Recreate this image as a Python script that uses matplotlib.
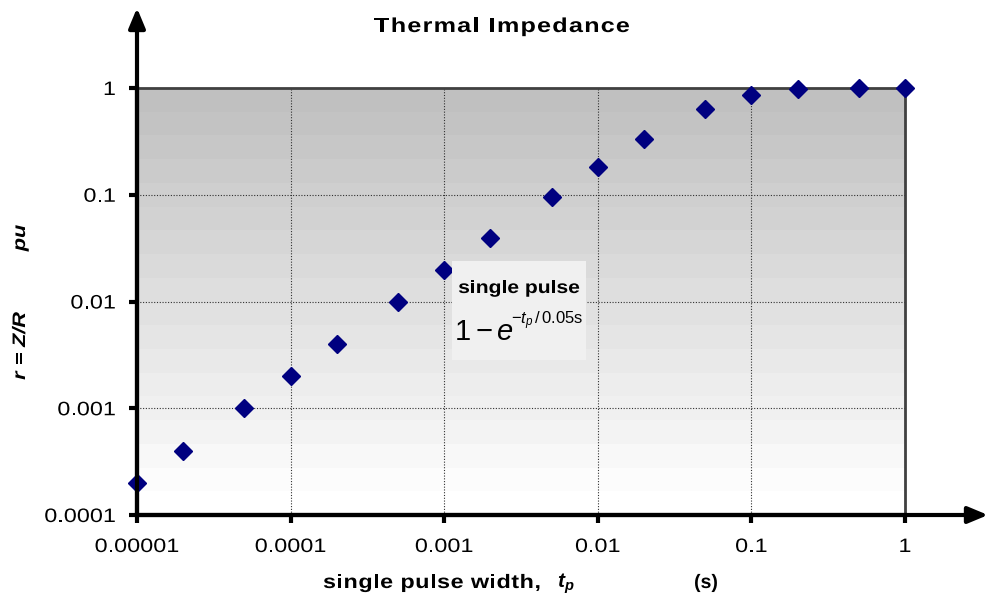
import numpy as np
import matplotlib
matplotlib.use("Agg")
import matplotlib.pyplot as plt
from matplotlib.font_manager import FontProperties
from matplotlib.transforms import IdentityTransform, Affine2D
from matplotlib.patches import FancyArrowPatch, Rectangle, PathPatch
from matplotlib.textpath import TextPath

plt.rcParams["font.family"] = ["Liberation Sans", "DejaVu Sans"]
plt.rcParams["mathtext.fontset"] = "custom"
plt.rcParams["mathtext.it"] = "Liberation Sans:italic"
plt.rcParams["mathtext.rm"] = "Liberation Sans"
plt.rcParams["mathtext.bf"] = "Liberation Sans:bold:italic"

# pulse width (s) and per-unit thermal impedance
pulse_width = [1e-5, 2e-5, 5e-5, 1e-4, 2e-4, 5e-4, 1e-3, 2e-3, 5e-3,
               1e-2, 2e-2, 5e-2, 0.1, 0.2, 0.5, 1.0]
impedance = [0.0002, 0.0004, 0.001, 0.002, 0.004, 0.0099, 0.0198, 0.039,
             0.095, 0.18, 0.33, 0.63, 0.86, 0.98, 1.0, 1.0]
x_ticks = [1e-5, 1e-4, 1e-3, 1e-2, 1e-1, 1]
x_labels = ["0.00001", "0.0001", "0.001", "0.01", "0.1", "1"]
y_ticks = [1e-4, 1e-3, 1e-2, 1e-1, 1]
y_labels = ["0.0001", "0.001", "0.01", "0.1", "1"]

W, H = 998, 599
PT = 100 / 72  # pixels per point
fig = plt.figure(figsize=(W / 100, H / 100), dpi=100)
renderer = fig.canvas.get_renderer()


def row(y_top):
    # image row (from the top) -> display y (from the bottom)
    return H - y_top


def stretched(x, y, s, size, sx=1.2, track=0.0, weight="normal", style="normal",
              ha="left", rotation=0, zorder=3):
    """draw wide text (like the original) as glyph paths; x, y = baseline in pixels"""
    prop = FontProperties(family="Liberation Sans", size=size, weight=weight, style=style)
    bar = renderer.get_text_width_height_descent("|", prop, ismath=False)[0]
    offs = [(renderer.get_text_width_height_descent(s[:i] + "|", prop, ismath=False)[0] - bar) * sx
            + i * track for i in range(len(s))]
    total = renderer.get_text_width_height_descent(s, prop, ismath=False)[0] * sx + (len(s) - 1) * track
    start = {"left": 0, "center": -total / 2, "right": -total}[ha]
    for ch, o in zip(s, offs):
        if ch == " ":
            continue
        path = TextPath((0, 0), ch, size=size, prop=prop)
        tr = Affine2D().scale(sx * PT, PT)
        if rotation == 90:
            tr = tr.rotate_deg(90).translate(x, y + start + o)
        else:
            tr = tr.translate(x + start + o, y)
        fig.add_artist(PathPatch(tr.transform_path(path), transform=IdentityTransform(),
                                 facecolor="black", edgecolor="none", lw=0, zorder=zorder))


ax = fig.add_axes([137 / W, 1 - 515 / H, (905 - 137) / W, (515 - 88) / H])
ax.set_xscale("log")
ax.set_yscale("log")
ax.set_xlim(1e-5, 1)
ax.set_ylim(1e-4, 1)

# banded grey gradient background
steps = 18
grad = np.linspace(1.0, 0.75, steps).reshape(-1, 1)
ax.imshow(grad, cmap="gray", vmin=0, vmax=1, aspect="auto", origin="lower",
          extent=[0, 1, 0, 1], transform=ax.transAxes, zorder=0,
          interpolation="nearest")

ax.grid(True, which="major", color="#303030", linestyle=(0, (1, 1.5)), linewidth=0.8, zorder=1)
ax.minorticks_off()
ax.set_xticks(x_ticks)
ax.set_xticklabels([])
ax.set_yticks(y_ticks)
ax.set_yticklabels([])
ax.tick_params(axis="both", direction="out", length=6, width=3, color="black")

for side in ["top", "right"]:
    ax.spines[side].set_color("#404040")
    ax.spines[side].set_linewidth(2)
for side in ["left", "bottom"]:
    ax.spines[side].set_color("black")
    ax.spines[side].set_linewidth(3)

ax.plot(pulse_width, impedance, linestyle="none", marker="D", markersize=9,
        color="#000080", clip_on=False, zorder=5)

# tick labels
for t, lab in zip(x_ticks, x_labels):
    xd = ax.transData.transform((t, 1e-4))[0]
    stretched(xd, row(552), lab, 14, ha="center")
for t, lab in zip(y_ticks, y_labels):
    yd = ax.transData.transform((1e-5, t))[1]
    stretched(116, yd - 7, lab, 14, ha="right")

# axis arrows
fig.add_artist(FancyArrowPatch(
    (137 / W, 1 - 515 / H), (137 / W, 1 - 8 / H), transform=fig.transFigure,
    arrowstyle="-|>,head_length=12,head_width=5", linewidth=3, color="black",
    shrinkA=0, shrinkB=0))
fig.add_artist(FancyArrowPatch(
    (137 / W, 1 - 515 / H), (988 / W, 1 - 515 / H), transform=fig.transFigure,
    arrowstyle="-|>,head_length=12,head_width=5", linewidth=3, color="black",
    shrinkA=0, shrinkB=0))

# annotation box
fig.patches.append(Rectangle(
    (452 / W, 1 - 360 / H), (586 - 452) / W, (360 - 261) / H,
    transform=fig.transFigure, facecolor="#f0f0f0", edgecolor="none", zorder=6))
stretched(519, row(293), "single pulse", 13, sx=1.17, weight="bold", ha="center", zorder=7)
fig.text(454, row(332), r"$1-e$", ha="left", va="center", fontsize=21,
         transform=IdentityTransform(), zorder=7)
fig.text(511, row(321), r"$-t_p\,/\,$0.05s", ha="left", va="center", fontsize=12,
         transform=IdentityTransform(), zorder=7)

# titles
stretched(502, row(32), "Thermal Impedance", 14.5, sx=1.25, track=1.2, weight="bold", ha="center")
stretched(323, row(588), "single pulse width,", 14, sx=1.2, track=0.5, weight="bold")
fig.text(557, row(588), r"$\mathbf{t_p}$", ha="left", va="baseline", fontsize=15,
         transform=IdentityTransform())
stretched(706, row(588), "(s)", 14, sx=1.0, weight="bold", ha="center")
stretched(25, row(346), "r = Z/R", 13, weight="bold", style="italic", rotation=90, ha="center")
stretched(25, row(238), "pu", 13, weight="bold", style="italic", rotation=90, ha="center")

fig.savefig("out.png", dpi=100)
